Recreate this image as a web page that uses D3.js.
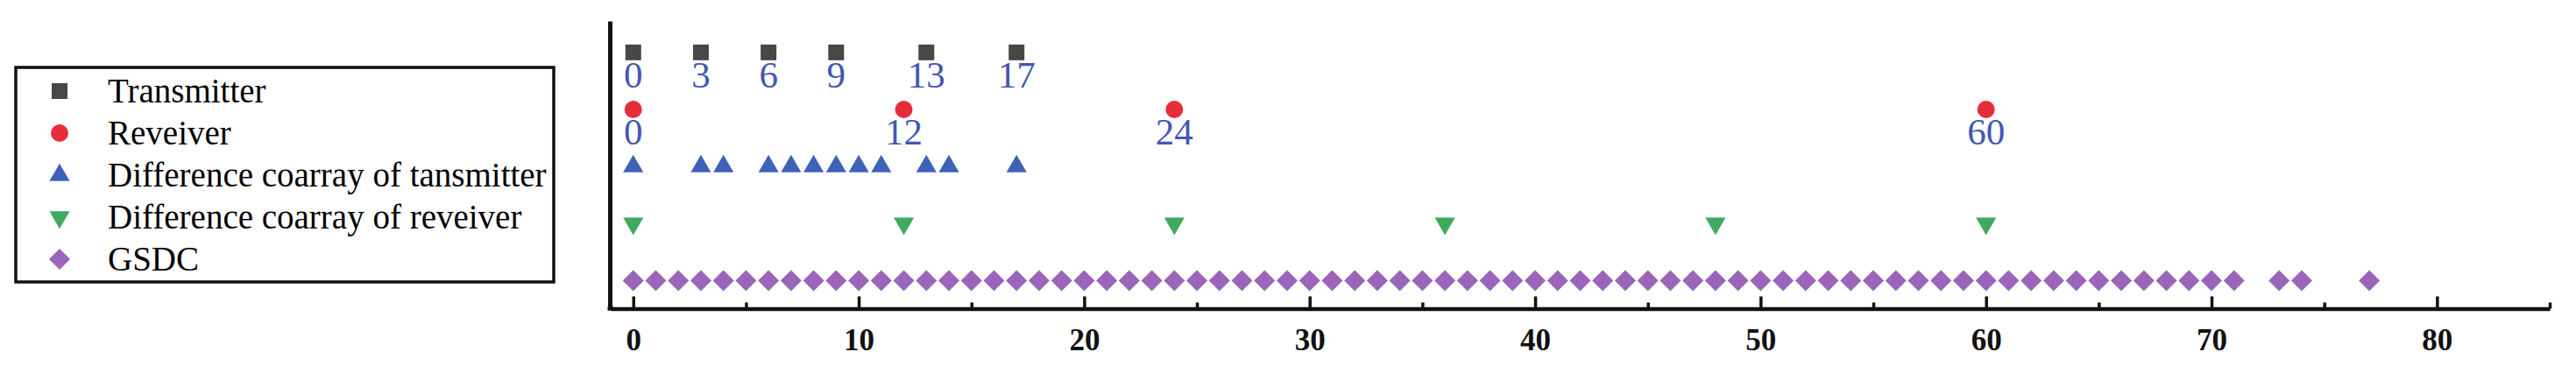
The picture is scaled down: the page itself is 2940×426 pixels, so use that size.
<!DOCTYPE html>
<html>
<head>
<meta charset="utf-8">
<script src="https://cdn.jsdelivr.net/npm/d3@7"></script>
<style>
  html, body { margin: 0; padding: 0; background: #fff; }
  svg { display: block; }
</style>
</head>
<body>
<svg id="chart" width="2940" height="426"></svg>
<script>
// ---- data ----
const seriesNames = ["Transmitter", "Reveiver", "Difference coarray of tansmitter", "Difference coarray of reveiver", "GSDC"];
const transmitter = [0, 3, 6, 9, 13, 17];
const receiver = [0, 12, 24, 60];
const diffTransmitter = [0, 3, 4, 6, 7, 8, 9, 10, 11, 13, 14, 17];
const diffReceiver = [0, 12, 24, 36, 48, 60];
const gsdc = d3.range(0, 72).concat([73, 74, 77]);
const seriesLevels = [9, 7, 5, 3, 1];
const majorTicks = [0, 10, 20, 30, 40, 50, 60, 70, 80];
const minorTicks = [5, 15, 25, 35, 45, 55, 65, 75, 85];
const xDomain = [-1, 85];
const yDomain = [0, 10.1];

// ---- styles ----
const series = [
  { name: seriesNames[0], values: transmitter, level: seriesLevels[0], symbol: d3.symbolSquare, size: 324, color: "#474747", rotate: 0, label: true },
  { name: seriesNames[1], values: receiver, level: seriesLevels[1], symbol: d3.symbolCircle, size: 314, color: "#e62e3b", rotate: 0, label: true },
  { name: seriesNames[2], values: diffTransmitter, level: seriesLevels[2], symbol: d3.symbolTriangle, size: 231, color: "#3f62b9", rotate: 0, label: false },
  { name: seriesNames[3], values: diffReceiver, level: seriesLevels[3], symbol: d3.symbolTriangle, size: 231, color: "#3fa95e", rotate: 180, label: false },
  { name: seriesNames[4], values: gsdc, level: seriesLevels[4], symbol: d3.symbolSquare, size: 289, color: "#9b65ba", rotate: 45, label: false }
];

const svg = d3.select("#chart");
svg.append("rect").attr("width", 2940).attr("height", 426).attr("fill", "#fff");

const x = d3.scaleLinear().domain(xDomain).range([697, 2910]);
const y = d3.scaleLinear().domain(yDomain).range([353, 24]);
const xAxisY = 352.5;

// ---- markers ----
series.forEach(s => {
  const g = svg.append("g");
  g.selectAll("path")
    .data(s.values)
    .join("path")
    .attr("d", d3.symbol().type(s.symbol).size(s.size))
    .attr("transform", d => `translate(${x(d)},${y(s.level)}) rotate(${s.rotate})`)
    .attr("fill", s.color);
  if (s.label) {
    g.selectAll("text")
      .data(s.values)
      .join("text")
      .attr("x", d => x(d))
      .attr("y", y(s.level) + 40.5)
      .attr("text-anchor", "middle")
      .attr("font-family", "'Liberation Serif', 'Times New Roman', serif")
      .attr("font-size", 43)
      .attr("fill", "#4357b2")
      .text(d => d);
  }
});

// ---- axes ----
const majorAxis = d3.axisBottom(x).tickValues(majorTicks).tickSizeInner(-14).tickSizeOuter(0).tickFormat(d3.format("d"));
const gMajor = svg.append("g").attr("transform", `translate(0,${xAxisY})`).call(majorAxis);
gMajor.select(".domain").attr("stroke", "#111").attr("stroke-width", 4.5);
gMajor.selectAll(".tick line").attr("stroke", "#111").attr("stroke-width", 3.5);
gMajor.selectAll(".tick text")
  .attr("y", 47.5).attr("dy", 0)
  .attr("font-family", "'Liberation Serif', 'Times New Roman', serif")
  .attr("font-weight", "bold")
  .attr("font-size", 35)
  .attr("fill", "#111");

const minorAxis = d3.axisBottom(x).tickValues(minorTicks).tickSizeInner(-7).tickSizeOuter(0).tickFormat("");
const gMinor = svg.append("g").attr("transform", `translate(0,${xAxisY})`).call(minorAxis);
gMinor.select(".domain").remove();
gMinor.selectAll(".tick line").attr("stroke", "#111").attr("stroke-width", 3.5);

const yAxis = d3.axisLeft(y).tickValues([]).tickSizeOuter(0);
const gY = svg.append("g").attr("transform", `translate(696,0)`).call(yAxis);
gY.select(".domain").attr("stroke", "#111").attr("stroke-width", 5);
svg.append("line").attr("x1", 693.5).attr("x2", 700).attr("y1", xAxisY).attr("y2", xAxisY).attr("stroke", "#111").attr("stroke-width", 4.5);

// ---- legend ----
const legend = svg.append("g");
legend.append("rect")
  .attr("x", 18).attr("y", 77).attr("width", 614).attr("height", 245)
  .attr("fill", "none").attr("stroke", "#111").attr("stroke-width", 3.5);
const rowY = d3.scalePoint().domain(seriesNames).range([104, 296]);
series.forEach(s => {
  legend.append("path")
    .attr("d", d3.symbol().type(s.symbol).size(s.size))
    .attr("transform", `translate(68,${rowY(s.name)}) rotate(${s.rotate})`)
    .attr("fill", s.color);
  legend.append("text")
    .attr("x", 123).attr("y", rowY(s.name) + 13)
    .attr("font-family", "'Liberation Serif', 'Times New Roman', serif")
    .attr("font-size", 39)
    .attr("fill", "#000")
    .text(s.name);
});
</script>
</body>
</html>
